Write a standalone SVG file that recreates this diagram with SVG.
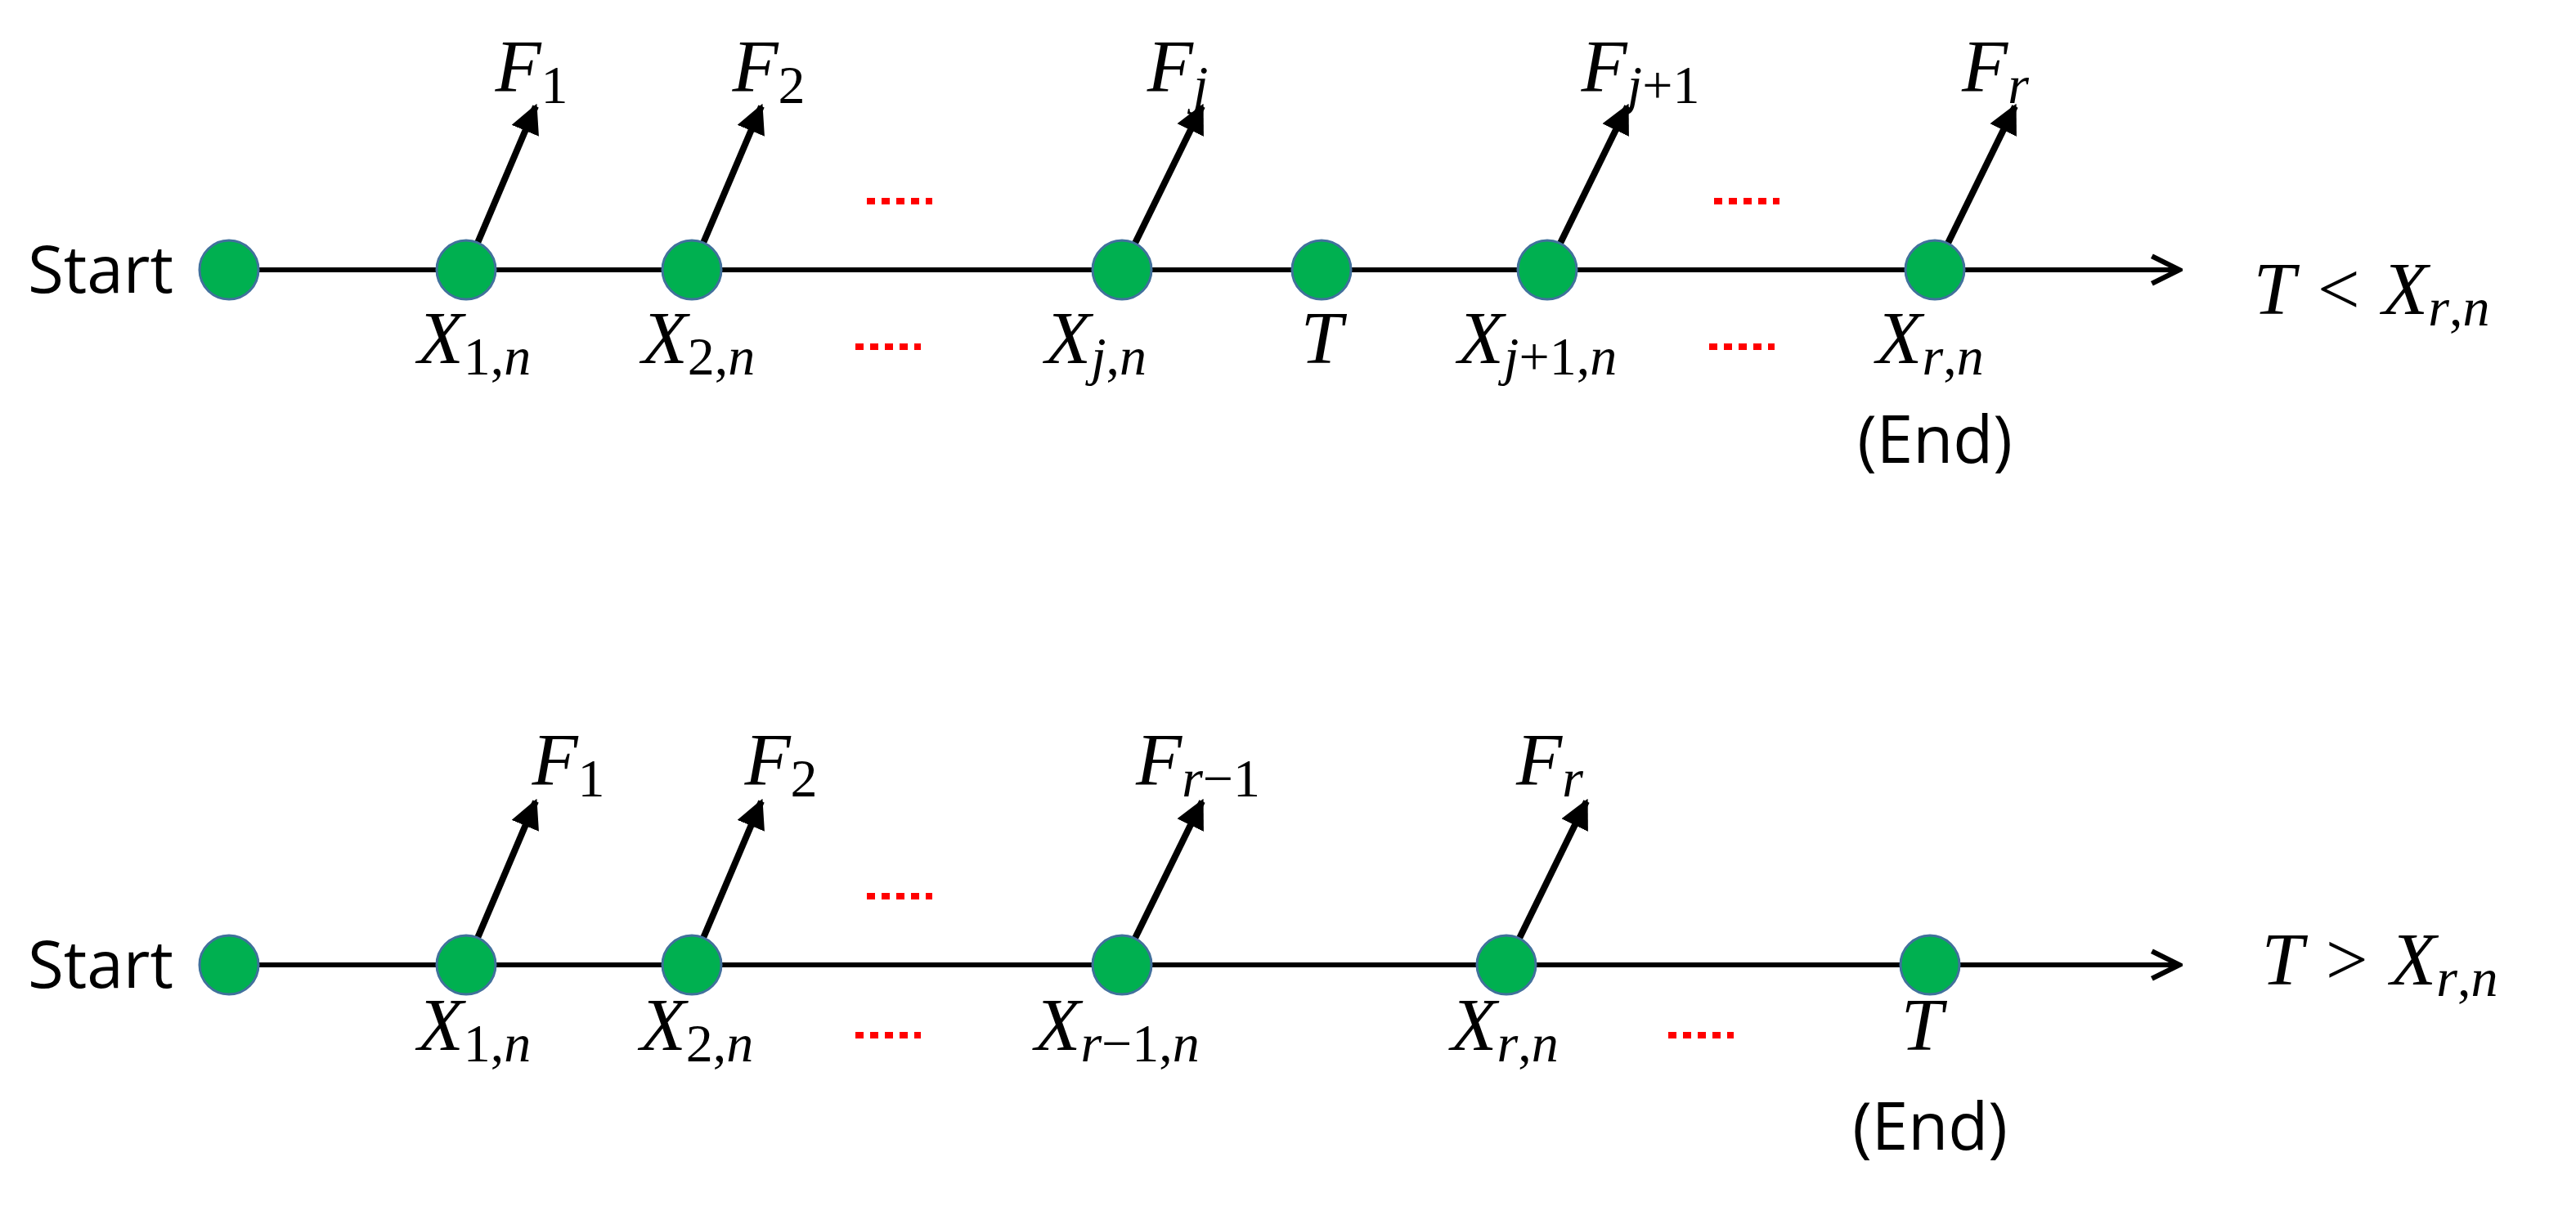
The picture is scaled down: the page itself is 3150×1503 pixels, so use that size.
<svg xmlns="http://www.w3.org/2000/svg" width="3150" height="1503" viewBox="0 0 3150 1503">
<defs>
<marker id="ah" viewBox="0 0 10 10" refX="9" refY="5" markerWidth="4.5" markerHeight="4.5" orient="auto" markerUnits="strokeWidth"><path d="M0,0 L10,5 L0,10 z" fill="#000"/></marker>
<marker id="oh" viewBox="0 0 20 20" refX="18" refY="10" markerWidth="7" markerHeight="7" orient="auto" markerUnits="strokeWidth"><path d="M2,2 L18,10 L2,18" fill="none" stroke="#000" stroke-width="3"/></marker>
<style>
.n{fill:#00B050;stroke:#41719C;stroke-width:3}
.ax{stroke:#000;stroke-width:6;fill:none}
.ar{stroke:#000;stroke-width:8;fill:none}
.d{stroke:#FF0000;stroke-width:8;stroke-dasharray:10 8}
.m{font-family:"Liberation Serif",serif;font-style:italic;font-size:92px;fill:#000}
.s{font-size:66px;font-style:normal}
.si{font-size:66px}
.t{font-family:"Open Sans","Liberation Sans",sans-serif;font-size:80px;fill:#000}
</style>
</defs>
<g id="connectors">
<line class="ax" x1="280" y1="330" x2="2665" y2="330" marker-end="url(#oh)"/>
<line class="ax" x1="280" y1="1180" x2="2665" y2="1180" marker-end="url(#oh)"/>
<line class="ar" x1="570" y1="330" x2="655" y2="130" marker-end="url(#ah)"/>
<line class="ar" x1="846" y1="330" x2="931" y2="130" marker-end="url(#ah)"/>
<line class="ar" x1="1372" y1="330" x2="1470" y2="130" marker-end="url(#ah)"/>
<line class="ar" x1="1892" y1="330" x2="1990" y2="130" marker-end="url(#ah)"/>
<line class="ar" x1="2366" y1="330" x2="2464" y2="130" marker-end="url(#ah)"/>
<line class="ar" x1="570" y1="1180" x2="655" y2="980" marker-end="url(#ah)"/>
<line class="ar" x1="846" y1="1180" x2="931" y2="980" marker-end="url(#ah)"/>
<line class="ar" x1="1372" y1="1180" x2="1470" y2="980" marker-end="url(#ah)"/>
<line class="ar" x1="1842" y1="1180" x2="1940" y2="980" marker-end="url(#ah)"/>
</g>
<g id="dots">
<line class="d" x1="1060" y1="246" x2="1140" y2="246"/>
<line class="d" x1="1046" y1="424" x2="1126" y2="424"/>
<line class="d" x1="2096" y1="246" x2="2176" y2="246"/>
<line class="d" x1="2090" y1="424" x2="2170" y2="424"/>
<line class="d" x1="1060" y1="1096" x2="1140" y2="1096"/>
<line class="d" x1="1046" y1="1266" x2="1126" y2="1266"/>
<line class="d" x1="2040" y1="1266" x2="2120" y2="1266"/>
</g>
<g id="top">
<g id="n-start1"><circle class="n" cx="280" cy="330" r="36"/><text class="t" x="212" y="358" text-anchor="end">Start</text></g>
<g id="n-x1"><circle class="n" cx="570" cy="330" r="36"/><text class="m" x="580" y="444" text-anchor="middle">X<tspan class="s" dy="14">1,</tspan><tspan class="si">n</tspan></text><text class="m" x="650" y="112" text-anchor="middle">F<tspan class="s" dy="14">1</tspan></text></g>
<g id="n-x2"><circle class="n" cx="846" cy="330" r="36"/><text class="m" x="854" y="444" text-anchor="middle">X<tspan class="s" dy="14">2,</tspan><tspan class="si">n</tspan></text><text class="m" x="940" y="112" text-anchor="middle">F<tspan class="s" dy="14">2</tspan></text></g>
<g id="n-xj"><circle class="n" cx="1372" cy="330" r="36"/><text class="m" x="1340" y="444" text-anchor="middle">X<tspan class="si" dy="14">j</tspan><tspan class="s">,</tspan><tspan class="si">n</tspan></text><text class="m" x="1440" y="112" text-anchor="middle">F<tspan class="si" dy="14">j</tspan></text></g>
<g id="n-t"><circle class="n" cx="1616" cy="330" r="36"/><text class="m" x="1616" y="444" text-anchor="middle">T</text></g>
<g id="n-xj1"><circle class="n" cx="1892" cy="330" r="36"/><text class="m" x="1880" y="444" text-anchor="middle">X<tspan class="si" dy="14">j</tspan><tspan class="s">+1,</tspan><tspan class="si">n</tspan></text><text class="m" x="2006" y="112" text-anchor="middle">F<tspan class="si" dy="14">j</tspan><tspan class="s">+1</tspan></text></g>
<g id="n-xr"><circle class="n" cx="2366" cy="330" r="36"/><text class="m" x="2360" y="444" text-anchor="middle">X<tspan class="si" dy="14">r</tspan><tspan class="s">,</tspan><tspan class="si">n</tspan></text><text class="t" x="2366" y="566" text-anchor="middle">(End)</text><text class="m" x="2440" y="112" text-anchor="middle">F<tspan class="si" dy="14">r</tspan></text></g>
<text class="m" x="2900" y="384" text-anchor="middle">T &lt; X<tspan class="si" dy="14">r</tspan><tspan class="s">,</tspan><tspan class="si">n</tspan></text>
</g>
<g id="bottom">
<g id="n-start2"><circle class="n" cx="280" cy="1180" r="36"/><text class="t" x="212" y="1208" text-anchor="end">Start</text></g>
<g id="n-bx1"><circle class="n" cx="570" cy="1180" r="36"/><text class="m" x="580" y="1284" text-anchor="middle">X<tspan class="s" dy="14">1,</tspan><tspan class="si">n</tspan></text><text class="m" x="695" y="960" text-anchor="middle">F<tspan class="s" dy="14">1</tspan></text></g>
<g id="n-bx2"><circle class="n" cx="846" cy="1180" r="36"/><text class="m" x="852" y="1284" text-anchor="middle">X<tspan class="s" dy="14">2,</tspan><tspan class="si">n</tspan></text><text class="m" x="955" y="960" text-anchor="middle">F<tspan class="s" dy="14">2</tspan></text></g>
<g id="n-bxr1"><circle class="n" cx="1372" cy="1180" r="36"/><text class="m" x="1366" y="1284" text-anchor="middle">X<tspan class="si" dy="14">r</tspan><tspan class="s">−1,</tspan><tspan class="si">n</tspan></text><text class="m" x="1465" y="960" text-anchor="middle">F<tspan class="si" dy="14">r</tspan><tspan class="s">−1</tspan></text></g>
<g id="n-bxr"><circle class="n" cx="1842" cy="1180" r="36"/><text class="m" x="1840" y="1284" text-anchor="middle">X<tspan class="si" dy="14">r</tspan><tspan class="s">,</tspan><tspan class="si">n</tspan></text><text class="m" x="1895" y="960" text-anchor="middle">F<tspan class="si" dy="14">r</tspan></text></g>
<g id="n-bt"><circle class="n" cx="2360" cy="1180" r="36"/><text class="m" x="2350" y="1284" text-anchor="middle">T</text><text class="t" x="2360" y="1406" text-anchor="middle">(End)</text></g>
<text class="m" x="2910" y="1204" text-anchor="middle">T &gt; X<tspan class="si" dy="14">r</tspan><tspan class="s">,</tspan><tspan class="si">n</tspan></text>
</g>
</svg>
